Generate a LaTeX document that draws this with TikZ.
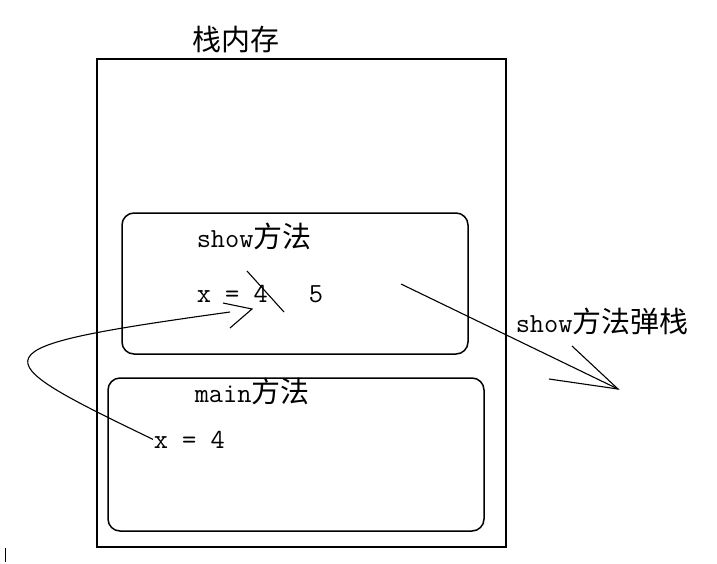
\documentclass[tikz,border=0pt]{standalone}
\usepackage{fontspec}
\newfontfamily\cjk{Noto Sans CJK SC}
\usetikzlibrary{positioning}
\newcommand{\zh}[1]{{\cjk\fontsize{29}{34}\selectfont #1}}

\begin{document}
\begin{tikzpicture}[x=1pt,y=-1pt,line width=1.5pt,font=\fontsize{27.6}{30}\selectfont\ttfamily]
    \tikzstyle{b}=[rectangle,draw,rounded corners=12pt,inner sep=0pt]
    \tikzstyle{lbl}=[inner sep=0pt,anchor=base west]
    \tikzstyle{pen}=[line width=1.1pt]
    \useasboundingbox (0,0) rectangle (717,563);
    % stack frame and the two method frames
    \node[draw,inner sep=0pt,minimum width=409pt,minimum height=488pt] (stack) at (301.5,303) {};
    \node[b,minimum width=346pt,minimum height=141pt] (show) at (295,283.5) {};
    \node[b,minimum width=376pt,minimum height=153pt] (main) at (296,454.5) {};
    \node[lbl] (title) at (192,50) {\zh{栈内存}};
    \node[lbl] (showname) at (196,247) {show\zh{方法}};
    \node[lbl] (showx) at (196,302) {x = 4};
    \node[lbl] (showfive) at (308,302) {5};
    \node[lbl] (mainname) at (194,402) {main\zh{方法}};
    \node[lbl] (mainx) at (153,448) {x = 4};
    \node[lbl] (pop) at (515,332) {show\zh{方法弹栈}};
    % value passed into show
    \coordinate (inend) at (230,312);
    \coordinate (intip) at (252,309);
    \draw[pen] (mainx.west) .. controls (-22,355) and (-29,348) .. (inend);
    \draw[pen] (223,303) -- (intip) -- (230,328);
    \draw[pen] (247,271) -- (284,312);
    % show frame popped
    \coordinate (popfrom) at (401,284);
    \coordinate (poptip) at (618,389);
    \draw[pen] (popfrom) -- (poptip);
    \draw[pen] (572,346) -- (poptip) -- (549,379);
    \draw[line width=1pt] (5,548) -- (5,562);
\end{tikzpicture}
\end{document}
